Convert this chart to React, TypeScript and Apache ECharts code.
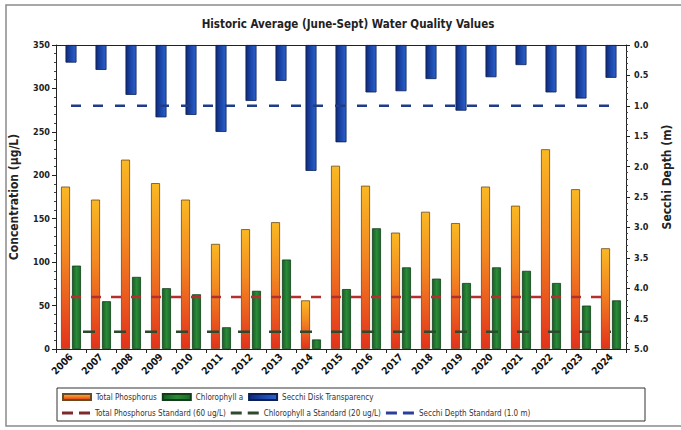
import React, { useEffect, useRef } from "react";
import * as echarts from "echarts";

const years = ["2006","2007","2008","2009","2010","2011","2012","2013","2014","2015","2016","2017","2018","2019","2020","2021","2022","2023","2024"];
const totalPhosphorus = [187,172,218,191,172,121,138,146,56,211,188,134,158,145,187,165,230,184,116];
const chlorophyll = [96,55,83,70,63,25,67,103,11,69,139,94,81,76,94,90,76,50,56];
const secchi = [0.29,0.41,0.82,1.19,1.15,1.43,0.92,0.59,2.07,1.6,0.78,0.76,0.56,1.08,0.53,0.33,0.78,0.88,0.54];
const tpStandard = 60;
const chlStandard = 20;
const secchiStandard = 1.0;
const leftTicks = { min: 0, max: 350, interval: 50 };
const rightTicks = { min: 0, max: 5, interval: 0.5 };

const FONT = "'Liberation Sans Narrow', 'DejaVu Sans Condensed', 'Liberation Sans', sans-serif";
const DASH_ICON = "path://M0,0H11V3H0Z M17,0H28V3H17Z";

export default function App() {
  const ref = useRef<HTMLDivElement>(null);
  useEffect(() => {
    if (!ref.current) return;
    const chart = echarts.init(ref.current, undefined, { renderer: "svg" });
    const orangeGrad = new echarts.graphic.LinearGradient(0, 0, 0, 1, [
      { offset: 0, color: "#F9B823" },
      { offset: 0.4, color: "#F38A22" },
      { offset: 1, color: "#E2321C" },
    ]);
    const greenGrad = new echarts.graphic.LinearGradient(0, 0, 1, 0, [
      { offset: 0, color: "#175E25" },
      { offset: 0.5, color: "#2A8A38" },
      { offset: 1, color: "#1B6A2A" },
    ]);
    const blueGrad = new echarts.graphic.LinearGradient(0, 0, 1, 0, [
      { offset: 0, color: "#0F2A76" },
      { offset: 0.5, color: "#1C47AA" },
      { offset: 1, color: "#2A62CC" },
    ]);
    const option: any = {
      animation: false,
      backgroundColor: "#ffffff",
      title: {
        text: "Historic Average (June-Sept) Water Quality Values",
        left: 343,
        textAlign: "center",
        top: 13,
        textStyle: { fontFamily: FONT, fontSize: 11.5, fontWeight: "bold", color: "#222" },
      },
      graphic: [
        {
          type: "rect",
          shape: { x: 6, y: 5, width: 700, height: 421 },
          style: { fill: "none", stroke: "#8a8a8a", lineWidth: 1.5 },
          silent: true,
        },
        {
          type: "rect",
          shape: { x: 57, y: 388, width: 588, height: 33 },
          style: { fill: "none", stroke: "#333", lineWidth: 1 },
          silent: true,
        },
      ],
      legend: [
        {
          data: [
            { name: "Total Phosphorus", icon: "rect" },
            { name: "Chlorophyll a", icon: "rect" },
            { name: "Secchi Disk Transparency", icon: "rect" },
          ],
          left: 62,
          top: 393,
          orient: "horizontal",
          itemWidth: 28,
          itemHeight: 6,
          itemGap: 5,
          padding: 0,
          textStyle: { fontFamily: FONT, fontSize: 8, color: "#333", width: 158 },
        },
        {
          data: [
            { name: "Total Phosphorus Standard (60 ug/L)", icon: DASH_ICON },
            { name: "Chlorophyll a Standard (20 ug/L)", icon: DASH_ICON },
            { name: "Secchi Depth Standard (1.0 m)", icon: DASH_ICON },
          ],
          left: 62,
          top: 409,
          orient: "horizontal",
          itemWidth: 28,
          itemHeight: 3,
          itemGap: 5,
          padding: 0,
          textStyle: { fontFamily: FONT, fontSize: 8, color: "#333", width: 158 },
        },
      ],
      grid: { left: 54, right: 39, top: 45, bottom: 81 },
      xAxis: [
        {
          type: "category",
          data: years,
          position: "bottom",
          axisLine: { show: true, lineStyle: { color: "#222", width: 1 } },
          axisTick: { show: true, length: 4, lineStyle: { color: "#222" } },
          axisLabel: {
            rotate: 45,
            fontFamily: FONT,
            fontSize: 10,
            fontWeight: "bold",
            color: "#111",
            margin: 6,
            interval: 0,
          },
          splitLine: { show: false },
        },
        {
          type: "category",
          data: years,
          position: "top",
          axisLine: { show: true, lineStyle: { color: "#222", width: 1 } },
          axisTick: { show: false },
          axisLabel: { show: false },
          splitLine: { show: false },
        },
      ],
      yAxis: [
        {
          type: "value",
          position: "left",
          min: leftTicks.min,
          max: leftTicks.max,
          interval: leftTicks.interval,
          name: "Concentration (\u00B5g/L)",
          nameLocation: "middle",
          nameRotate: 90,
          nameGap: 36,
          nameTextStyle: { fontFamily: FONT, fontSize: 12, fontWeight: "bold", color: "#222" },
          axisLine: { show: true, lineStyle: { color: "#222", width: 1 } },
          axisTick: { show: true, length: 4, lineStyle: { color: "#222" } },
          minorTick: { show: true, splitNumber: 5, length: 2, lineStyle: { color: "#444" } },
          axisLabel: { fontFamily: FONT, fontSize: 9, fontWeight: "bold", color: "#222", margin: 6 },
          splitLine: { show: false },
        },
        {
          type: "value",
          position: "right",
          inverse: true,
          min: rightTicks.min,
          max: rightTicks.max,
          interval: rightTicks.interval,
          name: "Secchi Depth (m)",
          nameLocation: "middle",
          nameRotate: 90,
          nameGap: 35,
          nameTextStyle: { fontFamily: FONT, fontSize: 12, fontWeight: "bold", color: "#222", padding: [0, 0, 0, 40] },
          axisLine: { show: true, lineStyle: { color: "#222", width: 1 } },
          axisTick: { show: true, length: 4, lineStyle: { color: "#222" } },
          minorTick: { show: true, splitNumber: 5, length: 2, lineStyle: { color: "#444" } },
          axisLabel: {
            fontFamily: FONT,
            fontSize: 9,
            fontWeight: "bold",
            color: "#222",
            margin: 8,
            formatter: (v: number) => v.toFixed(1),
          },
          splitLine: { show: false },
        },
      ],
      series: [
        {
          name: "Total Phosphorus",
          type: "bar",
          xAxisIndex: 0,
          yAxisIndex: 0,
          data: totalPhosphorus,
          barWidth: 9,
          barGap: "22%",
          itemStyle: { color: orangeGrad, borderColor: "#6b4a20", borderWidth: 0.8 },
          z: 2,
        },
        {
          name: "Chlorophyll a",
          type: "bar",
          xAxisIndex: 0,
          yAxisIndex: 0,
          data: chlorophyll,
          barWidth: 9,
          barGap: "22%",
          itemStyle: { color: greenGrad, borderColor: "#123d18", borderWidth: 0.8 },
          z: 2,
        },
        {
          name: "Secchi Disk Transparency",
          type: "bar",
          xAxisIndex: 1,
          yAxisIndex: 1,
          data: secchi,
          barWidth: 11,
          itemStyle: { color: blueGrad, borderColor: "#0b1f55", borderWidth: 0.8 },
          z: 2,
        },
        {
          name: "Total Phosphorus Standard (60 ug/L)",
          type: "line",
          xAxisIndex: 0,
          yAxisIndex: 0,
          data: years.map(() => tpStandard),
          symbol: "none",
          lineStyle: { color: "#B3302E", width: 2.5, type: [10, 10], dashOffset: 0 },
          itemStyle: { color: "#7E2A2A" },
          z: 5,
        },
        {
          name: "Chlorophyll a Standard (20 ug/L)",
          type: "line",
          xAxisIndex: 0,
          yAxisIndex: 0,
          data: years.map(() => chlStandard),
          symbol: "none",
          lineStyle: { color: "#2C4A2E", width: 2.5, type: [12, 19], dashOffset: 19 },
          itemStyle: { color: "#2C4A2E" },
          z: 5,
        },
        {
          name: "Secchi Depth Standard (1.0 m)",
          type: "line",
          xAxisIndex: 1,
          yAxisIndex: 1,
          data: years.map(() => secchiStandard),
          symbol: "none",
          lineStyle: { color: "#1F3C88", width: 2.5, type: [10, 12] },
          itemStyle: { color: "#2A3E9A" },
          z: 5,
        },
      ],
    };
    chart.setOption(option);
    return () => chart.dispose();
  }, []);
  return <div ref={ref} style={{ width: 681, height: 430, position: "absolute", left: 0, top: 0 }} />;
}
